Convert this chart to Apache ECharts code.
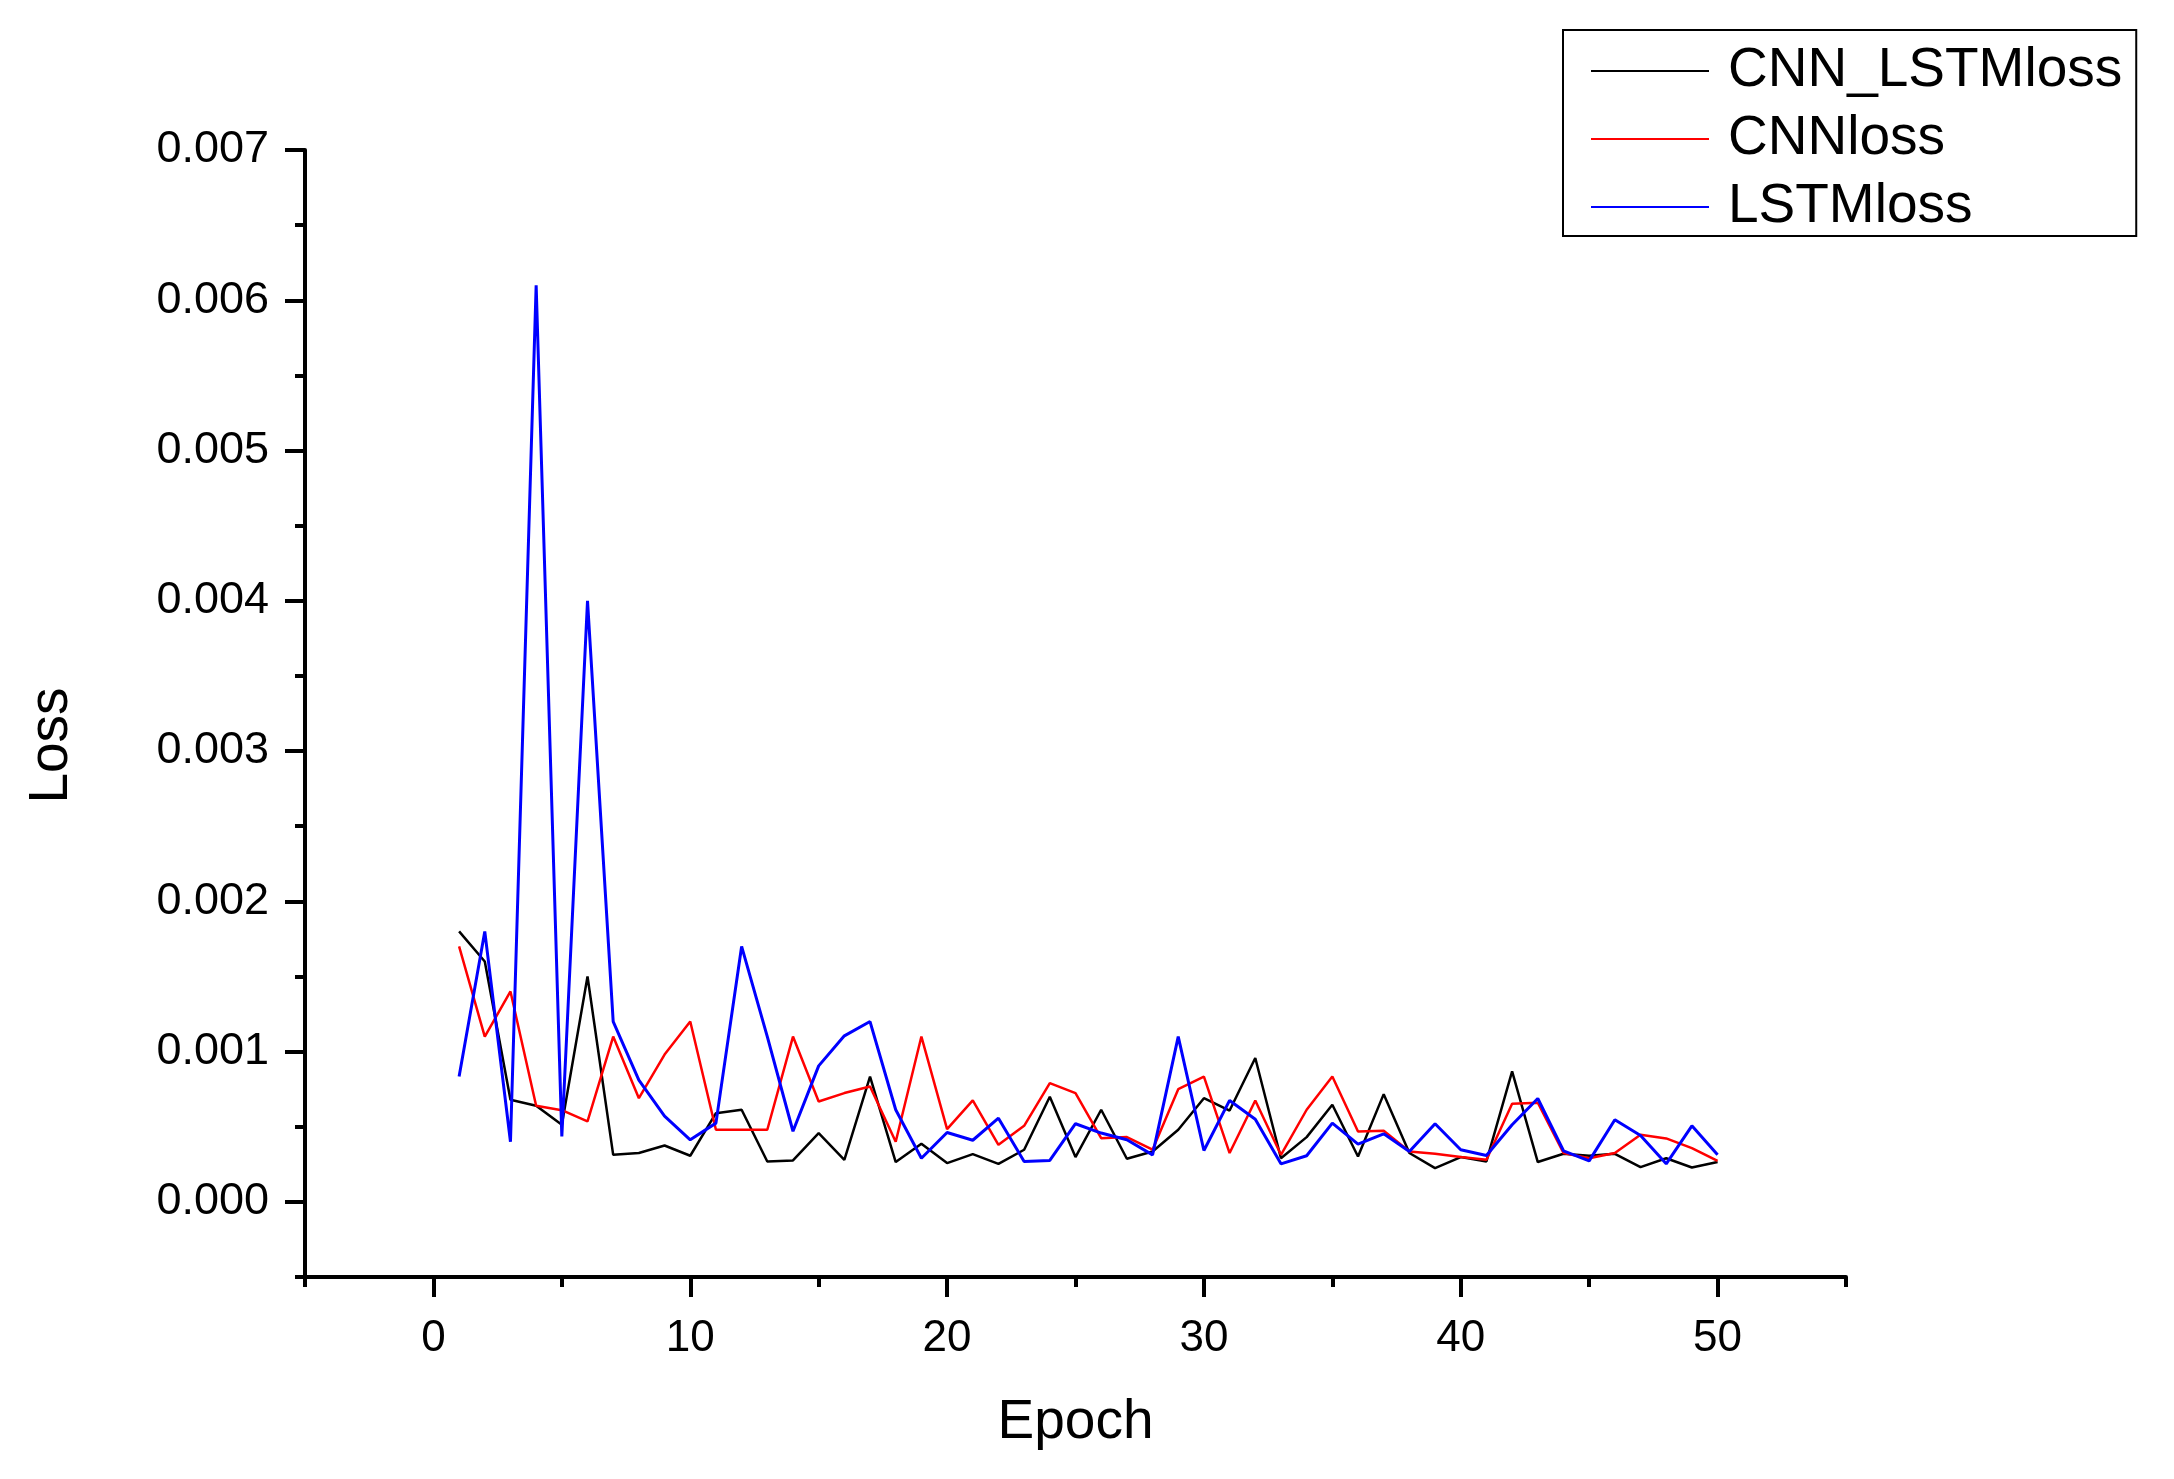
<!DOCTYPE html>
<html>
<head>
<meta charset="utf-8">
<script src="https://cdn.jsdelivr.net/npm/echarts@6/dist/echarts.min.js"></script>
<style>
html,body{margin:0;padding:0;background:#fff;}
#chart{width:2174px;height:1479px;}
</style>
</head>
<body>
<div id="chart"></div>
<script>
var epochs = [1,2,3,4,5,6,7,8,9,10,11,12,13,14,15,16,17,18,19,20,21,22,23,24,25,26,27,28,29,30,31,32,33,34,35,36,37,38,39,40,41,42,43,44,45,46,47,48,49,50];

var cnnLstmLoss = [0.00180,0.00160,0.00068,0.00064,0.000513,0.00150,0.000313,0.000325,0.000375,0.000307,
  0.00059,0.000613,0.000269,0.000276,0.000458,0.00028,0.000834,0.000265,0.000387,0.000258,
  0.000318,0.000253,0.000347,0.00070,0.000298,0.000613,0.000287,0.000335,0.00048,0.00069,
  0.000608,0.000957,0.00029,0.000431,0.000646,0.000302,0.000717,0.000325,0.000225,0.000298,
  0.000269,0.000868,0.000265,0.00032,0.000307,0.00032,0.000231,0.00029,0.000229,0.000265];

var cnnLoss = [0.00170,0.00110,0.00140,0.00064,0.00061,0.000535,0.00110,0.00069,0.00098,0.00120,
  0.00048,0.00048,0.00048,0.00110,0.000668,0.000724,0.000768,0.00040,0.00110,0.000484,
  0.000675,0.00038,0.000506,0.00079,0.000724,0.000424,0.000431,0.000347,0.00075,0.000834,
  0.000325,0.000675,0.000313,0.000613,0.000834,0.000468,0.000473,0.000335,0.00032,0.000298,
  0.00028,0.000653,0.00066,0.000325,0.00029,0.000325,0.000446,0.000422,0.000358,0.000273];

var lstmLoss = [0.000834,0.00180,0.00040,0.00610,0.000435,0.00400,0.00120,0.00081,0.00057,0.000413,
  0.000524,0.00170,0.00110,0.00047,0.000905,0.001105,0.00120,0.000613,0.00029,0.000462,
  0.00041,0.000557,0.000269,0.000276,0.00052,0.000458,0.000413,0.000313,0.00110,0.000342,
  0.000675,0.00055,0.000253,0.000307,0.000524,0.000384,0.000453,0.000335,0.00052,0.000347,
  0.000309,0.000513,0.000688,0.00034,0.000273,0.000546,0.000442,0.000253,0.000506,0.000313];

var seriesNames = ['CNN_LSTMloss','CNNloss','LSTMloss'];
var seriesColors = ['#000000','#ff0000','#0000ff'];

var xMajorTicks = [0,10,20,30,40,50];
var xMinorTicks = [-5,5,15,25,35,45,55];
var yMajorTicks = [0,0.001,0.002,0.003,0.004,0.005,0.006,0.007];
var yMinorTicks = [-0.0005,0.0005,0.0015,0.0025,0.0035,0.0045,0.0055,0.0065];

function pairs(vals){
  return epochs.map(function(e,i){ return [e, vals[i]]; });
}

var FONT = 'Arial, "Liberation Sans", sans-serif';
var chart = echarts.init(document.getElementById('chart'), null, {renderer:'canvas'});

var option = {
  animation: false,
  backgroundColor: '#ffffff',
  grid: {left:305, right:328, top:150, bottom:202, containLabel:false},
  legend: {
    orient: 'vertical',
    left: 1563,
    top: 30,
    padding: [13, 14, 1, 28],
    itemGap: 12,
    itemWidth: 118,
    itemHeight: 14,
    borderColor: '#000',
    borderWidth: 2,
    data: seriesNames.map(function(n,i){
      return {name:n, icon:'path://M0,0L118,0L118,2L0,2Z', itemStyle:{color:seriesColors[i]}};
    }),
    textStyle: {fontFamily: FONT, fontSize: 55, color:'#000', lineHeight: 56, padding:[0,0,0,14]}
  },
  xAxis: [{
    type: 'value',
    min: -5, max: 55,
    position: 'bottom',
    name: 'Epoch',
    nameLocation: 'middle',
    nameGap: 118,
    nameTextStyle: {fontFamily: FONT, fontSize: 55, color:'#000'},
    axisLine: {show:true, onZero:false, lineStyle:{color:'#000', width:4}},
    axisTick: {show:true, inside:false, length:20, lineStyle:{color:'#000', width:4}, customValues: xMajorTicks},
    axisLabel: {show:true, margin:40, fontFamily: FONT, fontSize:44, color:'#000', customValues: xMajorTicks},
    splitLine: {show:false}
  },{
    type: 'value',
    min: -5, max: 55,
    position: 'bottom',
    axisLine: {show:false, onZero:false},
    axisTick: {show:true, inside:false, length:10, lineStyle:{color:'#000', width:4}, customValues: xMinorTicks},
    axisLabel: {show:false},
    splitLine: {show:false}
  }],
  yAxis: [{
    type: 'value',
    min: -0.0005, max: 0.007,
    position: 'left',
    name: 'Loss',
    nameLocation: 'middle',
    nameGap: 226,
    nameRotate: 90,
    nameTextStyle: {fontFamily: FONT, fontSize: 55, color:'#000', padding:[0,64,0,0]},
    axisLine: {show:true, onZero:false, lineStyle:{color:'#000', width:4}},
    axisTick: {show:true, inside:false, length:20, lineStyle:{color:'#000', width:4}, customValues: yMajorTicks},
    axisLabel: {show:true, margin:36, fontFamily: FONT, fontSize:45, color:'#000', customValues: yMajorTicks,
      formatter: function(v){ return v.toFixed(3); }},
    splitLine: {show:false}
  },{
    type: 'value',
    min: -0.0005, max: 0.007,
    position: 'left',
    axisLine: {show:false, onZero:false},
    axisTick: {show:true, inside:false, length:10, lineStyle:{color:'#000', width:4}, customValues: yMinorTicks},
    axisLabel: {show:false},
    splitLine: {show:false}
  }],
  series: [
    {name: seriesNames[0], type:'line', xAxisIndex:0, yAxisIndex:0, data: pairs(cnnLstmLoss), symbol:'none',
     lineStyle:{color:seriesColors[0], width:2.5}, itemStyle:{color:seriesColors[0]}, z:2},
    {name: seriesNames[1], type:'line', xAxisIndex:0, yAxisIndex:0, data: pairs(cnnLoss), symbol:'none',
     lineStyle:{color:seriesColors[1], width:2.5}, itemStyle:{color:seriesColors[1]}, z:3},
    {name: seriesNames[2], type:'line', xAxisIndex:0, yAxisIndex:0, data: pairs(lstmLoss), symbol:'none',
     lineStyle:{color:seriesColors[2], width:3}, itemStyle:{color:seriesColors[2]}, z:4}
  ]
};
chart.setOption(option);
</script>
</body>
</html>
